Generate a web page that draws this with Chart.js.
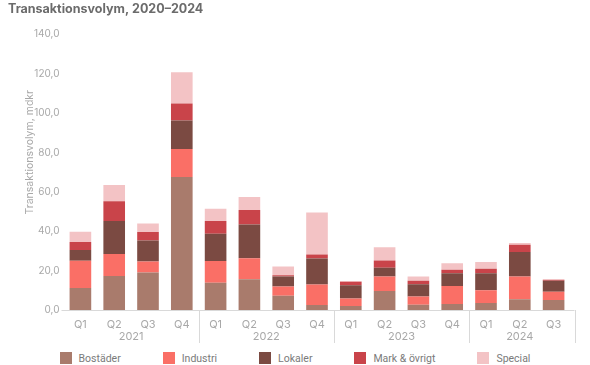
<!DOCTYPE html>
<html><head><meta charset="utf-8">
<script src="https://cdn.jsdelivr.net/npm/chart.js@4/dist/chart.umd.min.js"></script>
<style>
html,body{margin:0;padding:0;background:#fff;}
#wrap{position:relative;width:590px;height:365px;overflow:hidden;}
#c{position:absolute;left:0;top:0;}
#legend{position:absolute;left:0;top:351px;width:590px;height:14px;display:flex;justify-content:center;align-items:center;gap:42px;font-family:Roboto, sans-serif;font-size:10.5px;color:#7a7a7a;}
.item{display:flex;align-items:center;white-space:nowrap;}
.box{width:12px;height:12px;margin-right:7px;}
</style></head>
<body><div id="wrap"><canvas id="c" width="590" height="350"></canvas><div id="legend"></div></div>
<script>
const quarters = ["Q1","Q2","Q3","Q4","Q1","Q2","Q3","Q4","Q1","Q2","Q3","Q4","Q1","Q2","Q3"];
const years = ["2021","2021","2021","2021","2022","2022","2022","2022","2023","2023","2023","2023","2024","2024","2024"];
const bostader = [11.2, 17.3, 19.0, 67.6, 13.9, 15.6, 7.3, 2.5, 2.0, 9.7, 2.7, 3.1, 3.6, 5.4, 5.1];
const industri = [13.8, 11.2, 5.6, 14.2, 11.0, 10.7, 4.6, 10.4, 3.9, 7.3, 4.1, 9.1, 6.4, 11.6, 4.2];
const lokaler = [5.5, 16.7, 10.7, 14.4, 13.8, 17.1, 5.1, 13.2, 6.7, 4.4, 6.3, 6.5, 8.7, 12.5, 5.6];
const markOvrigt = [4.1, 10.1, 4.3, 8.7, 6.5, 7.4, 0.7, 2.1, 1.8, 3.7, 1.8, 1.7, 2.3, 3.6, 0.4];
const special = [5.1, 8.2, 4.3, 15.9, 6.2, 6.6, 4.4, 21.3, 0.3, 6.8, 2.1, 3.4, 3.4, 0.9, 0.5];
const seriesNames = ["Bostäder","Industri","Lokaler","Mark & övrigt","Special"];
const seriesColors = ["#a97b6c","#fa6f66","#7b4a42","#c9444a","#f3c3c5"];
const yTitle = "Transaktionsvolym, mdkr";
const chartTitle = "Transaktionsvolym, 2020–2024";

const seriesData = [bostader, industri, lokaler, markOvrigt, special];
const LABEL_COLOR = "#a8a8a8";
const FONT = "Inter, sans-serif";

const groupPlugin = {
  id: "groupPlugin",
  afterDraw(chart) {
    const ctx = chart.ctx;
    const x = chart.scales.x;
    const area = chart.chartArea;
    const half = (x.getPixelForValue(1) - x.getPixelForValue(0)) / 2;
    ctx.save();
    ctx.strokeStyle = "#d9d9d9";
    ctx.lineWidth = 1;
    const bounds = [];
    let start = 0;
    for (let i = 1; i <= years.length; i++) {
      if (i === years.length || years[i] !== years[i - 1]) {
        bounds.push([start, i - 1]);
        start = i;
      }
    }
    ctx.font = "11px " + FONT;
    ctx.fillStyle = LABEL_COLOR;
    ctx.textAlign = "center";
    ctx.textBaseline = "middle";
    bounds.forEach(([s, e], gi) => {
      const left = x.getPixelForValue(s) - half;
      const right = x.getPixelForValue(e) + half;
      ctx.fillText(years[s], (left + right) / 2, area.bottom + 27);
      const sx = Math.round(gi === bounds.length - 1 ? right + 4 : right) + 0.5;
      ctx.beginPath();
      ctx.moveTo(sx, area.bottom);
      ctx.lineTo(sx, area.bottom + 33);
      ctx.stroke();
    });
    ctx.beginPath();
    ctx.moveTo(area.left - 2, Math.round(area.bottom) + 0.5);
    ctx.lineTo(x.getPixelForValue(years.length - 1) + half + 4, Math.round(area.bottom) + 0.5);
    ctx.stroke();
    ctx.save();
    ctx.translate(30, (area.top + area.bottom) / 2 - 20);
    ctx.rotate(-Math.PI / 2);
    ctx.font = "10.5px " + FONT;
    ctx.fillStyle = LABEL_COLOR;
    ctx.fillText(yTitle, 0, 0);
    ctx.restore();
    ctx.restore();
  }
};

const chart = new Chart(document.getElementById("c"), {
  type: "bar",
  data: {
    labels: quarters,
    datasets: seriesData.map((d, i) => ({
      label: seriesNames[i],
      data: d,
      backgroundColor: seriesColors[i],
      borderWidth: 0,
      categoryPercentage: 1,
      barPercentage: 0.64
    }))
  },
  options: {
    responsive: false,
    animation: false,
    devicePixelRatio: 1,
    layout: { padding: { left: 8, right: 19.5, top: 0, bottom: 0 } },
    plugins: {
      legend: { display: false },
      tooltip: { enabled: false },
      title: {
        display: true,
        text: chartTitle,
        align: "start",
        color: "#6b6b6b",
        font: { family: FONT, size: 12.5, weight: "bold" },
        padding: { top: 2, bottom: 17.4 }
      }
    },
    scales: {
      x: {
        stacked: true,
        grid: { display: false, drawTicks: false },
        border: { display: false },
        ticks: { color: LABEL_COLOR, font: { family: FONT, size: 11 }, padding: 8, maxRotation: 0 },
        afterFit(s) { s.height = 40; }
      },
      y: {
        stacked: true,
        min: 0, max: 140,
        grid: { display: false, drawTicks: false },
        border: { display: false },
        ticks: {
          stepSize: 20, padding: 4, color: LABEL_COLOR,
          font: { family: FONT, size: 10 },
          callback: v => v.toFixed(1).replace(".", ",")
        },
        afterFit(s) { s.width = 55.5; }
      }
    }
  },
  plugins: [groupPlugin]
});

const leg = document.getElementById("legend");
seriesNames.forEach((n, i) => {
  const it = document.createElement("div");
  it.className = "item";
  const b = document.createElement("span");
  b.className = "box";
  b.style.background = seriesColors[i];
  const t = document.createElement("span");
  t.textContent = n;
  it.appendChild(b); it.appendChild(t);
  leg.appendChild(it);
});
</script>
</body></html>
